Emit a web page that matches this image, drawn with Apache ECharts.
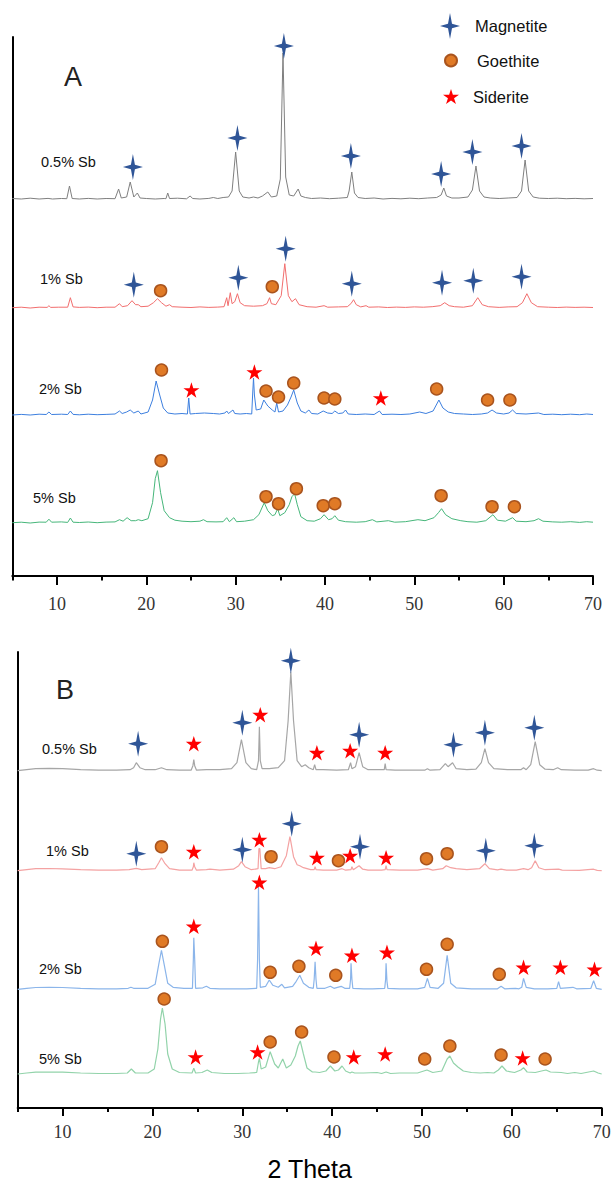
<!DOCTYPE html>
<html>
<head>
<meta charset="utf-8">
<title>XRD patterns</title>
<script src="https://cdn.jsdelivr.net/npm/echarts@6/dist/echarts.min.js"></script>
<style>
  html, body { margin: 0; padding: 0; background: #fff; }
  #chart { width: 613px; height: 1184px; }
</style>
</head>
<body>
<div id="chart"></div>
<script>
// 2-theta axis ticks
const thetaTicks = [10, 20, 30, 40, 50, 60, 70];
const thetaMinorTicks = [5, 15, 25, 35, 45, 55, 65];

const samples = ['0.5% Sb', '1% Sb', '2% Sb', '5% Sb'];

// Panel A patterns: [2theta, intensity above the pattern's own baseline]
const patternA05 = [[5,0.5],[6,0],[7,0.8],[8,0],[9,0.6],[9.5,0],[10.5,0.5],[11.1,0.3],[11.4,13],[11.7,0.5],[12.5,0],[13.5,0.6],[14.5,0],[15.5,0.5],[16.5,0.3],[16.9,10],[17.2,1],[17.8,2],[18.2,17],[18.6,2],[19.0,6],[19.3,1],[20,0.5],[21,0],[22,0.5],[22.2,0.3],[22.4,6],[22.6,0.5],[23.5,0.8],[24.5,0.2],[24.9,3],[25.2,0.5],[26,0],[27,0.6],[27.5,1.5],[28,0.5],[28.6,1.5],[29.2,2],[29.6,8],[30.0,47],[30.4,8],[30.8,2],[31.5,1],[32,2],[32.5,1],[33,3],[33.6,7],[34,2],[34.6,3],[35.0,20],[35.3,146],[35.6,22],[36.0,4],[36.5,3],[37.0,10],[37.3,3],[37.8,1.5],[38.5,0.5],[39.5,1],[40.5,0.3],[41.5,0.8],[42.5,1.5],[42.7,8],[43.0,27],[43.3,6],[43.7,1.5],[44.5,0.5],[45.5,1],[46.5,0],[47.5,0.6],[48.5,0.2],[49.5,0.8],[50.5,0.3],[51.5,1],[52.5,1.5],[53.0,4],[53.3,11],[53.6,3],[54.2,1],[55,1],[56,2],[56.5,9],[56.9,33],[57.3,8],[57.8,2],[58.5,1],[59.5,0.5],[60.5,1],[61.5,1.5],[62.0,8],[62.4,39],[62.8,8],[63.3,2],[64,0.8],[65,0.5],[66,0.8],[67,0.3],[68,0.6],[69,0.2],[70,0.5]];
const patternA1 = [[5,0],[6,0.5],[7,-0.3],[8,0.5],[8.9,0.3],[9.1,2],[9.3,0.3],[10.2,0.5],[11.2,0.5],[11.5,10],[11.8,0.8],[12.5,0.3],[13.5,0.6],[14.5,0],[15.5,0.5],[16.5,0.5],[17.0,4],[17.3,1],[17.9,2],[18.4,7],[18.8,3],[19.1,3],[19.4,1],[20.2,1.5],[20.8,5],[21.25,9],[21.7,5],[22.2,1.5],[22.6,3],[22.9,1],[24,0.5],[25,0.2],[26,0.8],[27,0.3],[28,0.6],[28.7,1],[29.0,10],[29.15,2],[29.4,15],[29.6,4],[29.9,6],[30.2,14],[30.5,5],[31,2],[32,1.5],[33,2],[33.5,4],[33.8,10],[34.0,4],[34.5,3],[35.1,12],[35.5,44],[35.9,12],[36.3,6],[36.7,9],[37.1,3],[38,1],[39,0.5],[39.9,2],[40.3,0.5],[41.5,0.8],[42.5,1],[42.9,4],[43.2,8],[43.5,3],[44,0.8],[44.6,2],[44.9,0.5],[46,0.8],[47,0.2],[48,0.6],[49,0.3],[50,0.8],[51,0.5],[52,1],[52.9,2],[53.4,5],[53.9,2],[54.5,1],[55.5,0.5],[56.5,2],[57.1,10],[57.6,3],[58.3,1],[59.5,0.3],[60.5,0.8],[61.5,1],[62.1,5],[62.6,14],[63.1,5],[63.8,1],[65,0.5],[66,0.2],[67,0.6],[68,0.3],[69,0.5],[70,0.2]];
const patternA2 = [[5,0],[6,0.6],[7,0],[8,0.8],[8.8,0.5],[9.1,3],[9.4,0.5],[10.5,0.8],[11.2,0.5],[11.5,4],[11.8,0.6],[12.5,0.2],[13.5,0.8],[14.5,0.3],[15.5,0.6],[16.5,1],[17.0,4],[17.3,1.5],[17.8,3],[18.2,5],[18.6,2],[19.1,4],[19.4,1],[20.2,3],[20.7,15],[21.1,34],[21.5,20],[21.9,7],[22.4,2],[23.2,1],[24,1.5],[24.6,1],[24.75,17],[24.9,1],[25.5,1.5],[26.5,2],[27.5,1.5],[28.2,1],[28.8,2],[29.0,4],[29.2,1.5],[29.7,5],[29.9,1.5],[30.5,1],[31.2,1.5],[31.8,1],[31.9,20],[32.0,37],[32.1,20],[32.3,5],[32.8,6],[33.15,15],[33.6,9],[34.1,5],[34.4,3],[34.6,12],[34.8,3],[35.3,4],[35.8,10],[36.2,18],[36.5,25],[36.9,12],[37.3,4],[37.8,2],[38.2,5],[38.5,1.5],[39.2,1],[39.8,4],[40.3,2],[40.8,1.5],[41.1,4],[41.5,1.5],[42.0,2],[42.3,5],[42.6,1],[43.5,0.5],[44.5,1],[45.5,0.5],[46.1,4],[46.4,0.5],[47.5,0.8],[48.5,0.5],[49.5,1],[50.6,3],[51.3,1.5],[52.1,4],[52.75,15],[53.2,7],[53.8,3],[54.5,1.5],[55.5,1],[56.5,0.5],[57.5,1],[58.2,2],[58.7,5],[59.2,2],[60,1],[60.6,2],[61.0,5],[61.4,1.5],[62.5,1],[63.9,2],[64.5,0.5],[65.5,0.8],[66.5,0.3],[67.5,0.8],[68.5,0.3],[69.3,1],[70,0.5]];
const patternA5 = [[5,0],[6,0.5],[7,-0.3],[8,0.6],[8.8,0.5],[9.1,3.5],[9.4,0.5],[10.5,0.8],[11.2,0.3],[11.5,4.7],[11.8,0.5],[12.5,0.2],[13.5,0.7],[14.5,0],[15.5,0.6],[16.5,0.8],[17.0,3],[17.4,1.5],[17.85,5],[18.3,2],[18.8,2],[19.1,3],[19.5,2],[20.2,4],[20.7,20],[21.0,44],[21.25,52],[21.6,30],[22.0,12],[22.6,5],[23.2,2.5],[24,1.5],[25,1],[26.0,1.5],[26.4,3],[26.8,1],[27.8,0.8],[28.6,1],[29.0,5],[29.3,1],[29.8,5],[30.1,1],[31,1.5],[32.0,3],[32.6,8],[33.2,20],[33.6,12],[34.1,7],[34.4,8],[34.7,14],[34.95,7],[35.5,10],[36.0,18],[36.3,26],[36.6,29],[36.9,18],[37.3,6],[38,2],[38.8,1.5],[39.5,4],[39.9,8],[40.4,3],[40.8,4],[41.1,7],[41.5,2.5],[42.3,1],[43.5,0.5],[44.5,1],[45.3,3],[45.8,0.8],[47.1,2],[47.8,0.5],[49,1],[50.4,3],[51.2,2],[52.2,5],[52.7,10],[53.05,14],[53.5,8],[54.2,4],[55.2,2],[56,1],[57,0.5],[58.0,2],[58.8,8],[59.3,2.5],[60.2,1.5],[61.0,5],[61.4,1.5],[62.5,1],[63.4,2],[63.9,4],[64.4,1.5],[65.5,0.8],[66.5,0.5],[67.5,1],[68.5,0.3],[69.3,1],[70,0.5]];

// Panel B patterns
const patternB05 = [[5,0],[6,1],[7,2],[8.5,2.3],[10,2],[12,1],[14,0.5],[16,0.5],[17.5,1],[17.9,3],[18.2,8],[18.6,3],[19.2,1],[20.3,1],[21.0,3],[21.6,1],[23,0.5],[24.3,0.5],[24.5,5],[24.6,11],[24.7,5],[24.9,0.5],[26,1],[27.5,1],[28.8,2],[29.4,8],[29.9,31],[30.4,8],[31,2],[31.6,1],[31.8,10],[31.9,44],[32.0,10],[32.2,2],[33,2],[34,3],[34.7,10],[35.1,50],[35.4,99],[35.7,50],[36.1,10],[36.6,4],[37.0,6],[37.4,3],[37.9,1],[38.05,6],[38.2,1],[39,1],[40.5,0.5],[41.8,1],[42.05,8],[42.2,2],[42.6,4],[43.0,18],[43.4,4],[44,1],[45,1],[45.8,1],[45.9,7],[46.0,1],[47,0.5],[48.5,0.5],[50.3,0.5],[50.6,2],[50.9,0.5],[52,1],[52.6,7],[52.9,4],[53.4,8],[53.8,2],[55,1],[56,1.5],[56.6,8],[57.0,22],[57.4,8],[58,2],[59.5,1],[61,1],[61.3,3],[61.6,1],[62.1,6],[62.6,29],[63.1,6],[63.7,1.5],[64.6,1],[65.1,3],[65.5,1],[67,0.5],[68.5,0.5],[69.1,2],[69.5,0.5],[70,0]];
const patternB1 = [[5,0],[6,1],[7,2],[8.5,2.2],[10,1.8],[12,1],[14,0.5],[16,0.5],[17.4,1],[18.2,2.3],[18.8,1],[20.3,2],[20.7,8],[21.0,13],[21.4,7],[21.9,2],[23,0.5],[24.4,0.5],[24.55,4],[24.6,8],[24.7,4],[24.9,0.5],[26,1],[26.4,1.5],[27.5,0.5],[29,1.5],[29.6,5],[29.9,9],[30.3,4],[31,1],[31.75,2],[31.85,22],[31.95,22],[32.1,2],[32.6,2],[33.0,3],[33.6,2],[34.3,4],[34.9,15],[35.3,34],[35.7,14],[36.1,6],[36.4,5],[36.8,3],[37.6,1],[38.0,1],[38.1,4],[38.2,1],[39,0.5],[40.5,0.5],[41.1,2],[41.5,0.5],[42.1,1],[42.2,4],[42.35,1],[43.0,5],[43.4,1.5],[44,0.5],[45.5,0.5],[45.9,1],[46.0,5],[46.1,1],[47.5,0.5],[49.5,0.5],[50.6,2],[51.2,0.5],[52.3,2],[52.7,5],[53.2,3],[53.8,2],[55,1],[56.4,2],[57.0,7],[57.5,2],[58.4,0.8],[58.8,1.5],[59.4,0.5],[60.5,0.5],[61.3,2],[61.8,1],[62.2,3],[62.6,10],[63.0,3],[63.7,1],[65.2,1.5],[65.6,0.5],[67.5,0.3],[69.1,1.5],[69.5,0.3],[70,0]];
const patternB2 = [[5,0],[6,1],[7,1.8],[8.5,2],[10,1.8],[12,1],[14,0.5],[16,0.5],[17.3,1],[17.6,2],[17.9,1],[19.5,1],[20.3,5],[20.7,25],[21.0,39],[21.3,25],[21.7,6],[22.3,2],[23.5,1],[24.45,1],[24.55,30],[24.6,51.6],[24.7,30],[24.8,1],[25.6,1.5],[26.0,3],[26.4,1],[27.5,0.5],[29,0.5],[30.5,0.5],[31.6,1],[31.7,30],[31.8,102.6],[31.9,30],[32.0,2],[32.6,3],[33.0,9.3],[33.4,4],[34.0,2],[34.4,5],[34.7,1.5],[35.6,3],[36.0,8],[36.4,14],[36.8,6],[37.4,2],[37.9,1],[38.0,10],[38.1,27.6],[38.2,10],[38.3,1],[39.2,1],[39.8,3],[40.2,1],[41.0,3],[41.4,1],[41.95,1],[42.05,10],[42.1,26],[42.2,10],[42.3,1],[43.5,0.5],[44.5,0.5],[45.85,1],[45.95,10],[46.0,26],[46.1,8],[46.2,1],[47.5,0.5],[49.5,0.5],[50.3,2],[50.6,11],[50.9,2],[51.8,1],[52.4,6],[52.8,34],[53.2,6],[53.8,1.5],[55.5,0.5],[57,0.5],[58.4,0.5],[58.8,3],[59.2,0.5],[60.4,1],[60.8,0.5],[61.1,2],[61.3,11],[61.6,2],[62.5,0.5],[64,0.5],[65.0,1],[65.2,7.7],[65.4,1],[66.8,2],[67.2,0.5],[68.8,1],[69.1,8.7],[69.4,1],[70,0]];
const patternB5 = [[5,0],[6,1],[7,1.8],[8.5,2],[10,1.8],[12,1],[14,0.5],[16,0.5],[17.2,1],[17.65,5],[18.1,1],[19.5,1],[20.2,5],[20.6,25],[20.9,55],[21.1,66],[21.4,50],[21.7,20],[22.2,5],[23,1.5],[24.4,1],[24.6,5.7],[24.8,1],[25.5,1.5],[26.1,4],[26.6,1.5],[28,0.5],[29.5,0.5],[30.8,1],[31.6,1.5],[31.8,12],[31.9,15.7],[32.1,5],[32.6,7],[33.1,22.3],[33.6,10],[34.0,6],[34.5,15],[34.9,6],[35.4,9],[35.9,18],[36.2,28],[36.45,33],[36.8,20],[37.2,6],[37.8,2],[38.1,2],[38.6,1.5],[39.3,3],[39.8,8],[40.3,3],[40.7,4],[41.1,8],[41.5,3],[42.0,1],[42.2,2],[42.5,1],[43.5,1],[45,1.5],[45.5,0.5],[46.0,2],[46.5,0.5],[47.5,1],[49.5,1],[50.55,4],[51.2,1.5],[52.2,3],[52.8,15],[53.1,18],[53.5,11],[54.0,7],[54.6,3],[55.5,1.5],[56.5,1],[57.3,1.5],[58.0,1],[58.5,4],[58.9,8],[59.4,3],[60.3,1.5],[61.0,4],[61.3,6.3],[61.7,2],[62.6,1.5],[63.3,3],[63.8,4],[64.3,2],[65.5,1.5],[66.2,0.5],[67,1.5],[67.7,0.5],[69.1,3],[69.6,1],[70,0]];

// Phase markers per sample: [2theta, height above baseline]
const magnetiteA = [
  [[18.5,32],[30.2,61],[35.4,153],[42.9,43],[53.0,25],[56.5,47],[62.0,53]],
  [[18.6,23],[30.3,30],[35.6,59],[43.0,24],[53.1,25],[56.6,27],[62.0,31]],
  [],
  []
];
const goethiteA = [
  [],
  [[21.6,17],[34.1,21]],
  [[21.7,45],[33.4,24],[34.8,18],[36.5,32],[39.9,17],[41.1,16],[52.5,26],[58.2,15],[60.7,15]],
  [[21.65,62],[33.4,26],[34.8,19],[36.8,34],[39.8,17],[41.1,19],[53.0,27],[58.7,16],[61.2,16]]
];
const sideriteA = [
  [],
  [],
  [[25.05,25],[32.1,43],[46.25,17]],
  []
];
const magnetiteB = [
  [[18.4,27],[30.0,48],[35.4,110],[43.0,36],[53.5,26],[57.0,38],[62.5,43]],
  [[18.2,17],[30.0,21],[35.5,47],[43.1,24],[57.1,20],[62.5,25]],
  [],
  []
];
const goethiteB = [
  [],
  [[21.0,24],[33.2,14],[40.7,10],[50.5,12],[52.8,17]],
  [[21.1,48],[33.1,17],[36.3,23],[40.4,14],[50.5,20],[52.8,45],[58.6,15]],
  [[21.3,75],[33.1,32],[36.6,42],[40.2,17],[50.3,15],[53.1,28],[58.8,19],[63.7,15]]
];
const sideriteB = [
  [[24.6,27],[32.0,56],[38.3,18],[42.0,20],[45.9,18]],
  [[24.6,19],[31.9,31],[38.3,13],[42.0,15],[46.0,13]],
  [[24.6,63],[31.9,107],[38.2,41],[42.2,34],[46.1,37],[61.3,22],[65.4,22],[69.2,20]],
  [[24.8,17],[31.7,22],[42.4,17],[45.9,20],[61.2,16]]
];

// ---- layout & styling ----
// four-pointed sparkle for magnetite, five-pointed star for siderite
const STAR4 = 'path://M0,-13 L2,-2.2 L10,0 L2,2.2 L0,13 L-2,2.2 L-10,0 L-2,-2.2 Z';
const STAR5 = 'path://M0,-100 L22.45,-30.9 L95.1,-30.9 L36.3,11.8 L58.8,80.9 L0,38.2 L-58.8,80.9 L-36.3,11.8 L-95.1,-30.9 L-22.45,-30.9 Z';
const MAG_COLOR = '#2F5597';
const GOE_FILL = '#E07A26';
const GOE_EDGE = '#A9541E';
const SID_COLOR = '#FF0000';
const SANS = "'Liberation Sans', Arial, sans-serif";
const SERIF = "'Liberation Serif', 'Times New Roman', serif";

const panels = [
  { top: 37, bottom: 576, left: 12.3, right: 593, offsets: [377, 268.3, 161, 53.3],
    patterns: [patternA05, patternA1, patternA2, patternA5],
    colors: ['#7f7f7f', '#f26e6e', '#3d7fdf', '#46b67a'], width: 1,
    mag: magnetiteA, goe: goethiteA, sid: sideriteA, labelMargin: 19, tickLen: 9 },
  { top: 652, bottom: 1108, left: 17.7, right: 601.7, offsets: [337.3, 237.3, 118.7, 34],
    patterns: [patternB05, patternB1, patternB2, patternB5],
    colors: ['#a6a6a6', '#f4a2a2', '#8bb5ea', '#92d3aa'], width: 1.2,
    mag: magnetiteB, goe: goethiteB, sid: sideriteB, labelMargin: 15, tickLen: 8 }
];

const W = 613;
const grid = [], xAxis = [], yAxis = [], series = [];

panels.forEach((p, g) => {
  const H = p.bottom - p.top;
  grid.push({ left: p.left, width: p.right - p.left, top: p.top, height: H, containLabel: false, outerBoundsMode: 'none' });
  xAxis.push({
    type: 'value', gridIndex: g, min: 5, max: 70, position: 'bottom',
    axisLine: { show: true, onZero: false, lineStyle: { color: '#000', width: 2 } },
    axisTick: { show: true, inside: false, length: p.tickLen, customValues: thetaTicks, lineStyle: { color: '#000', width: 2 } },
    axisLabel: { show: true, customValues: thetaTicks, margin: p.labelMargin, color: '#333',
      fontFamily: SERIF, fontSize: 18 },
    splitLine: { show: false },
    name: g === 1 ? '2 Theta' : '', nameLocation: 'middle', nameGap: 48,
    nameTextStyle: { color: '#000', fontFamily: SANS, fontSize: 25 }
  });
  xAxis.push({
    type: 'value', gridIndex: g, min: 5, max: 70, position: 'bottom',
    axisLine: { show: false, onZero: false },
    axisTick: { show: true, inside: false, length: p.tickLen / 2, customValues: thetaMinorTicks, lineStyle: { color: '#000', width: 2 } },
    axisLabel: { show: false },
    splitLine: { show: false }
  });
  yAxis.push({
    type: 'value', gridIndex: g, min: 0, max: H,
    axisLine: { show: true, onZero: false, lineStyle: { color: '#000', width: 2 } },
    axisTick: { show: false }, axisLabel: { show: false }, splitLine: { show: false }
  });

  const lift = (pts, off) => pts.map(d => [d[0], off + d[1]]);
  p.patterns.forEach((pat, i) => {
    series.push({
      type: 'line', name: samples[i], xAxisIndex: 2 * g, yAxisIndex: g,
      data: lift(pat, p.offsets[i]), showSymbol: false, symbol: 'none', silent: true,
      lineStyle: { color: p.colors[i], width: p.width }, z: 2
    });
  });
  const collect = arr => arr.flatMap((pts, i) => lift(pts, p.offsets[i]));
  series.push({
    type: 'scatter', name: 'Magnetite', xAxisIndex: 2 * g, yAxisIndex: g,
    symbol: STAR4, symbolSize: [20, 26], itemStyle: { color: MAG_COLOR, opacity: 1 },
    data: collect(p.mag), z: 5, silent: true
  });
  series.push({
    type: 'scatter', name: 'Goethite', xAxisIndex: 2 * g, yAxisIndex: g,
    symbol: 'circle', symbolSize: 12,
    itemStyle: { color: GOE_FILL, borderColor: GOE_EDGE, borderWidth: 1.5, opacity: 1 },
    data: collect(p.goe), z: 5, silent: true
  });
  series.push({
    type: 'scatter', name: 'Siderite', xAxisIndex: 2 * g, yAxisIndex: g,
    symbol: STAR5, symbolSize: [16, 15.5], itemStyle: { color: SID_COLOR, opacity: 1 },
    data: collect(p.sid), z: 5, silent: true
  });
});

const legendText = { color: '#111', fontFamily: SANS, fontSize: 16.5 };
const legend = [
  { data: [{ name: 'Magnetite', icon: STAR4 }], left: 440, top: 13, padding: 0,
    itemWidth: 20, itemHeight: 26, selectedMode: false,
    textStyle: Object.assign({ padding: [0, 0, 0, 10] }, legendText) },
  { data: [{ name: 'Goethite', icon: 'circle' }], left: 444, top: 52, padding: 0,
    itemWidth: 12, itemHeight: 12, selectedMode: false,
    textStyle: Object.assign({ padding: [10, 0, 0, 15] }, legendText) },
  { data: [{ name: 'Siderite', icon: STAR5 }], left: 443, top: 88, padding: 0,
    itemWidth: 16, itemHeight: 15.5, selectedMode: false,
    textStyle: Object.assign({ padding: [0, 0, 0, 9] }, legendText) }
];

// Panel letters and sample names
const sampleFont = { fontFamily: SANS, fontSize: 14.5, fill: '#111', verticalAlign: 'middle', align: 'left' };
const textAt = (x, y, text, style) => ({ type: 'text', x, y, silent: true,
  style: Object.assign({ text }, style) });
const letterStyle = { fontFamily: SANS, fontSize: 27, fill: '#222', verticalAlign: 'middle', align: 'center' };
const graphic = [
  textAt(73, 77, 'A', letterStyle),
  textAt(65, 690, 'B', letterStyle),
  textAt(41, 162, samples[0], sampleFont),
  textAt(40, 279, samples[1], sampleFont),
  textAt(39, 389, samples[2], sampleFont),
  textAt(33, 498, samples[3], sampleFont),
  textAt(42, 749, samples[0], sampleFont),
  textAt(46, 851, samples[1], sampleFont),
  textAt(39, 969, samples[2], sampleFont),
  textAt(39, 1059, samples[3], sampleFont)
];

const chart = echarts.init(document.getElementById('chart'), null, { renderer: 'svg', width: W, height: 1184 });
chart.setOption({
  backgroundColor: '#fff',
  animation: false,
  tooltip: { show: false },
  grid, xAxis, yAxis, series, legend, graphic
});
</script>
</body>
</html>
